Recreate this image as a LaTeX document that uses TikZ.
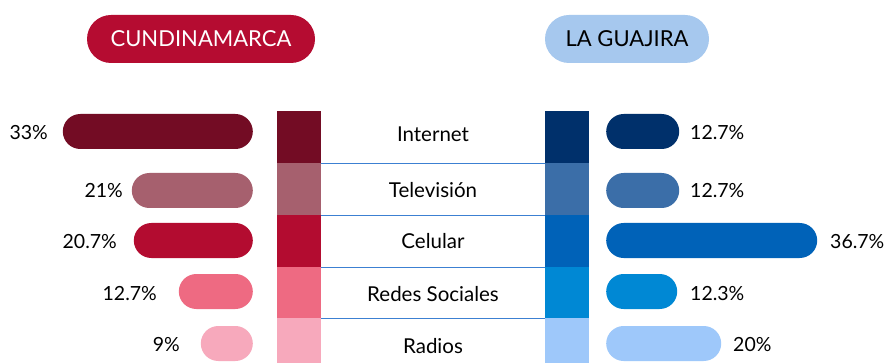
\documentclass[tikz,border=0pt]{standalone}
\usepackage{fontspec}
\setmainfont{Lato}
\definecolor{hdrred}{HTML}{B50C31}
\definecolor{hdrblue}{HTML}{A6C8EE}
\definecolor{lA}{HTML}{730C24}
\definecolor{lB}{HTML}{A6606E}
\definecolor{lC}{HTML}{B30C30}
\definecolor{lD}{HTML}{EE6A82}
\definecolor{lE}{HTML}{F7A9BC}
\definecolor{rA}{HTML}{00306B}
\definecolor{rB}{HTML}{3B6EA8}
\definecolor{rC}{HTML}{0062B8}
\definecolor{rD}{HTML}{0088D4}
\definecolor{rE}{HTML}{9EC8FA}
\definecolor{sepblue}{HTML}{3C80D2}
\begin{document}
\begin{tikzpicture}[x=1pt,y=-1pt,
  txt/.style={font=\fontsize{19.5}{22}\selectfont, inner sep=0pt, text=black},
  cat/.style={font=\fontsize{20.5}{23}\selectfont, inner sep=0pt, text=black},
  hdr/.style={font=\fontsize{22}{25}\selectfont, inner sep=0pt},
  pill/.style={rounded corners=24pt, inner sep=0pt, minimum height=48pt, draw=none},
  bar/.style={rounded corners=17.5pt, inner sep=0pt, minimum height=35pt, draw=none},
  cell/.style={inner sep=0pt, minimum width=44pt, anchor=north west, draw=none},
  sepline/.style={draw=sepblue, line width=1.4pt}]
\clip (0,0) rectangle (885,363);
\fill[white] (0,0) rectangle (885,363);

% headers
\node[pill, fill=hdrred, minimum width=228pt] (h1) at (201,39) {};
\node[hdr, text=white] (h1t) at (h1.center) {CUNDINAMARCA};
\node[pill, fill=hdrblue, minimum width=164pt] (h2) at (627,39) {};
\node[hdr, text=black] (h2t) at (h2.center) {LA GUAJIRA};

% left strip
\node[cell, fill=lA, minimum height=52pt] (l1) at (277,111) {};
\node[cell, fill=lB, minimum height=52pt] (l2) at (277,163) {};
\node[cell, fill=lC, minimum height=52pt] (l3) at (277,215) {};
\node[cell, fill=lD, minimum height=51pt] (l4) at (277,267) {};
\node[cell, fill=lE, minimum height=52pt] (l5) at (277,318) {};
% right strip
\node[cell, fill=rA, minimum height=52pt] (r1) at (545,111) {};
\node[cell, fill=rB, minimum height=52pt] (r2) at (545,163) {};
\node[cell, fill=rC, minimum height=52pt] (r3) at (545,215) {};
\node[cell, fill=rD, minimum height=51pt] (r4) at (545,267) {};
\node[cell, fill=rE, minimum height=52pt] (r5) at (545,318) {};

% separators
\draw[sepline] (l1.south east) -- (r1.south west);
\draw[sepline] (l2.south east) -- (r2.south west);
\draw[sepline] (l3.south east) -- (r3.south west);
\draw[sepline] (l4.south east) -- (r4.south west);

% category labels
\node[cat] (c1) at (433,134) {Internet};
\node[cat] (c2) at (433,190) {Televisión};
\node[cat] (c3) at (433,241) {Celular};
\node[cat] (c4) at (433,294) {Redes Sociales};
\node[cat] (c5) at (433,346) {Radios};

% left bars
\node[bar, fill=lA, minimum width=190pt, anchor=east] (lb1) at (253,131.5) {};
\node[bar, fill=lB, minimum width=121pt, anchor=east] (lb2) at (253,190.5) {};
\node[bar, fill=lC, minimum width=119pt, anchor=east] (lb3) at (253,240.5) {};
\node[bar, fill=lD, minimum width=74pt, anchor=east] (lb4) at (253,291.5) {};
\node[bar, fill=lE, minimum width=52pt, anchor=east] (lb5) at (253,343.5) {};
\node[txt, anchor=east] (lv1) at (48,133) {33\%};
\node[txt, anchor=east] (lv2) at (123,191) {21\%};
\node[txt, anchor=east] (lv3) at (117,242) {20.7\%};
\node[txt, anchor=east] (lv4) at (157,294) {12.7\%};
\node[txt, anchor=east] (lv5) at (180,345) {9\%};

% right bars
\node[bar, fill=rA, minimum width=73pt, anchor=west] (rb1) at (606,131.5) {};
\node[bar, fill=rB, minimum width=73pt, anchor=west] (rb2) at (606,190.5) {};
\node[bar, fill=rC, minimum width=211pt, anchor=west] (rb3) at (606,240.5) {};
\node[bar, fill=rD, minimum width=71pt, anchor=west] (rb4) at (606,291.5) {};
\node[bar, fill=rE, minimum width=115pt, anchor=west] (rb5) at (606,343.5) {};
\node[txt, anchor=west] (rv1) at (690,133) {12.7\%};
\node[txt, anchor=west] (rv2) at (690,191) {12.7\%};
\node[txt, anchor=west] (rv3) at (830,242) {36.7\%};
\node[txt, anchor=west] (rv4) at (690,294) {12.3\%};
\node[txt, anchor=west] (rv5) at (733,345) {20\%};
\end{tikzpicture}
\end{document}
